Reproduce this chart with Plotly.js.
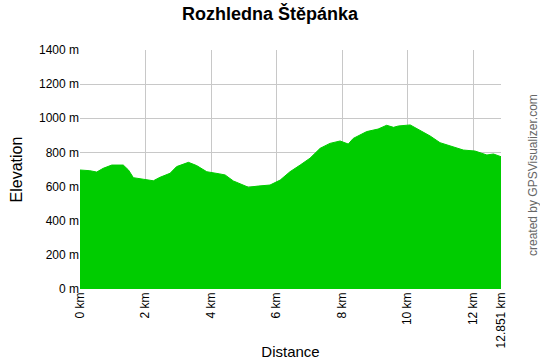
<!DOCTYPE html>
<html><head><meta charset="utf-8">
<script src="https://cdn.plot.ly/plotly-3.0.1.min.js"></script>
<style>body{margin:0;background:#fff}#c{width:540px;height:360px}</style>
</head><body><div id="c"></div>
<script>
const distanceKm = [0,0.30,0.51,0.71,0.97,1.32,1.48,1.63,1.93,2.24,2.44,2.75,2.95,3.31,3.56,3.87,4.27,4.43,4.68,5.14,5.44,5.80,6.11,6.41,6.72,7.02,7.33,7.63,7.94,8.19,8.34,8.75,9.10,9.36,9.57,9.72,10.08,10.38,10.69,10.99,11.30,11.70,12.06,12.42,12.62,12.851];
const elevationM = [697,693,685,707,726,726,697,652,643,634,654,678,717,742,723,687,674,668,633,596,603,609,638,687,726,766,824,853,867,849,882,922,937,959,947,955,961,931,896,857,838,814,808,785,791,775];
const xTickVals = [0,2,4,6,8,10,12,12.851];
const xTickText = ["0 km","2 km","4 km","6 km","8 km","10 km","12 km","12.851 km"];
const yTickVals = [0,200,400,600,800,1000,1200,1400];
const yTickText = ["0 m","200 m","400 m","600 m","800 m","1000 m","1200 m","1400 m"];

Plotly.newPlot('c',[{
  x: distanceKm, y: elevationM, type:'scatter', mode:'lines',
  fill:'tozeroy', fillcolor:'#00cc00', line:{color:'#00cc00',width:1}, hoverinfo:'none'
}],{
  width:540,height:360,
  margin:{l:80,r:39,t:50,b:71},
  paper_bgcolor:'#fff',plot_bgcolor:'#fff',
  showlegend:false,
  font:{family:'Liberation Sans, Arial, sans-serif',color:'#000',size:12},
  title:{text:'<b>Rozhledna Štěpánka</b>',font:{size:18,color:'#000'},x:0.5,xanchor:'center',y:0.962,yanchor:'middle'},
  xaxis:{range:[0,12.851],tickmode:'array',tickvals:xTickVals,ticktext:xTickText,tickangle:-90,
    showgrid:true,gridcolor:'#c8c8c8',gridwidth:1,zeroline:false,showline:false,ticks:'',
    tickfont:{size:12},title:{text:'Distance',font:{size:15},standoff:6}},
  yaxis:{range:[0,1400],tickmode:'array',tickvals:yTickVals,ticktext:yTickText,
    showgrid:true,gridcolor:'#c8c8c8',gridwidth:1,zeroline:false,showline:false,ticks:'',
    tickfont:{size:12},title:{text:'Elevation',font:{size:16},standoff:12}},
  annotations:[{text:'created by GPSVisualizer.com',xref:'paper',yref:'paper',x:1.076,y:0.477,
    textangle:-90,showarrow:false,font:{size:12,color:'#666'},xanchor:'center',yanchor:'middle'}]
},{staticPlot:true});
</script></body></html>
